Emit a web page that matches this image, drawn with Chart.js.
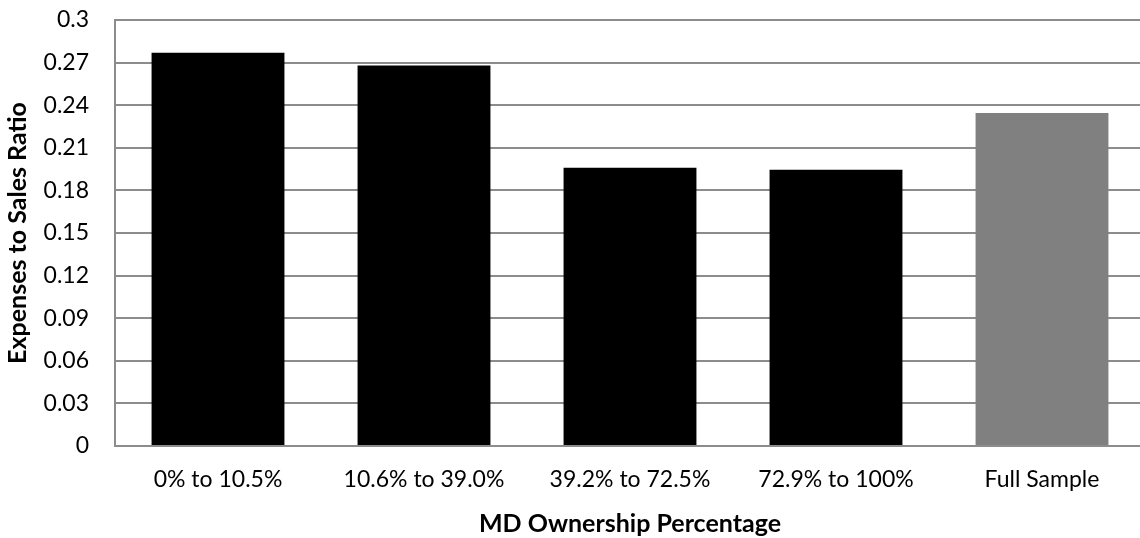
<!DOCTYPE html>
<html>
<head>
<meta charset="utf-8">
<script src="https://cdn.jsdelivr.net/npm/chart.js@4.4.1/dist/chart.umd.min.js"></script>
<style>
  html, body { margin: 0; padding: 0; background: #fff; overflow: hidden; }
  #wrap { position: relative; width: 1146px; height: 538px; }
</style>
</head>
<body>
<div id="wrap"><canvas id="chart" width="1146" height="538"></canvas></div>
<script>
// Ownership brackets and their mean expenses-to-sales ratios
const categories = ['0% to 10.5%', '10.6% to 39.0%', '39.2% to 72.5%', '72.9% to 100%', 'Full Sample'];
const ratios = [0.277, 0.268, 0.196, 0.1945, 0.2345];
const barColors = ['#000000', '#000000', '#000000', '#000000', '#808080'];
const yTicks = [0, 0.03, 0.06, 0.09, 0.12, 0.15, 0.18, 0.21, 0.24, 0.27, 0.3];

const FONT = 'Lato, "Open Sans", sans-serif';

new Chart(document.getElementById('chart'), {
  type: 'bar',
  data: {
    labels: categories,
    datasets: [{
      data: ratios,
      backgroundColor: barColors,
      borderWidth: 0,
      categoryPercentage: 1.0,
      barPercentage: 0.645
    }]
  },
  options: {
    responsive: false,
    animation: false,
    layout: { padding: { top: 20, right: 1, left: 0, bottom: 0 } },
    plugins: { legend: { display: false }, tooltip: { enabled: false } },
    scales: {
      x: {
        grid: { display: false, drawTicks: false },
        border: { display: true, color: '#8c8c8c', width: 2 },
        ticks: { color: '#000', font: { family: FONT, size: 23 }, padding: 20, maxRotation: 0 },
        title: {
          display: true, text: 'MD Ownership Percentage', color: '#000',
          font: { family: FONT, size: 25, weight: 'bold' }, padding: { top: 14, bottom: -1 }
        },
        afterFit: s => { s.height = 92; }
      },
      y: {
        min: 0, max: 0.3,
        afterBuildTicks: s => { s.ticks = yTicks.map(v => ({ value: v })); },
        grid: { color: '#8c8c8c', lineWidth: 2, drawTicks: false },
        border: { display: true, color: '#8c8c8c', width: 2 },
        ticks: {
          color: '#000', font: { family: FONT, size: 23 }, padding: 26,
          callback: v => String(+v.toFixed(2))
        },
        title: {
          display: true, text: 'Expenses to Sales Ratio', color: '#000',
          font: { family: FONT, size: 25, weight: 'bold' }, padding: { top: 3, bottom: 0 }
        },
        afterFit: s => { s.width = 115; s.paddingTop = 0; s.paddingBottom = 0; }
      }
    }
  }
});
</script>
</body>
</html>
